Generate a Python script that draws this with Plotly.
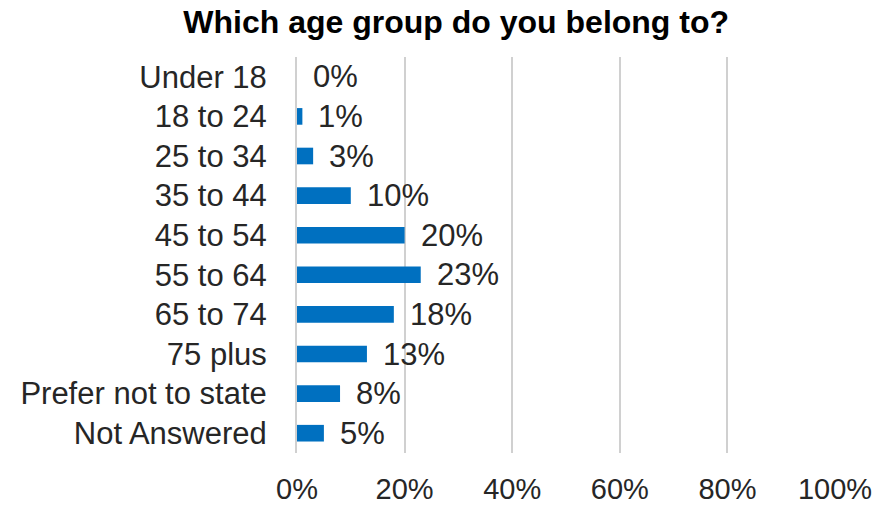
import plotly.graph_objects as go

categories = ["Under 18", "18 to 24", "25 to 34", "35 to 44", "45 to 54",
              "55 to 64", "65 to 74", "75 plus", "Prefer not to state", "Not Answered"]
shares = [0, 1, 3, 10, 20, 23, 18, 13, 8, 5]  # percent of respondents
x_ticks = [0, 20, 40, 60, 80, 100]
x_tick_labels = ["0%", "20%", "40%", "60%", "80%", "100%"]

BAR_BLUE = "#0070C0"
TEXT = "#262626"
FONT = "Liberation Sans, Arial, sans-serif"

fig = go.Figure(go.Bar(
    y=categories,
    x=shares,
    orientation="h",
    marker=dict(color=BAR_BLUE, line=dict(width=0)),
    width=0.42,
    hoverinfo="skip",
))

# value labels to the right of each bar
for cat, val in zip(categories, shares):
    fig.add_annotation(
        x=val, y=cat, xref="x", yref="y",
        text=f"{val}%", showarrow=False,
        xanchor="left", yanchor="middle", xshift=14,
        font=dict(family=FONT, size=31, color=TEXT),
    )

fig.update_layout(
    width=879, height=506,
    margin=dict(l=297, r=44, t=57, b=53),
    paper_bgcolor="white", plot_bgcolor="white",
    showlegend=False,
    title=dict(
        text="<b>Which age group do you belong to?</b>",
        x=0.519, xanchor="center", y=0.957, yanchor="middle",
        font=dict(family=FONT, size=32, color="#000000"),
    ),
    font=dict(family=FONT, size=30, color=TEXT),
)

fig.update_xaxes(
    range=[0, 100],
    tickvals=x_ticks, ticktext=x_tick_labels,
    showgrid=True, gridcolor="#D0D0D0", gridwidth=2,
    zeroline=False, showline=False, ticks="",
    ticklabelstandoff=16,
    tickfont=dict(family=FONT, size=29, color=TEXT),
    automargin=False,
    fixedrange=True,
)
fig.update_yaxes(
    categoryorder="array", categoryarray=categories,
    autorange="reversed",
    showgrid=False, zeroline=False,
    showline=True, linecolor="#D0D0D0", linewidth=2,
    ticks="", ticklabelstandoff=22,
    tickfont=dict(family=FONT, size=31, color=TEXT),
    automargin=False,
    fixedrange=True,
)

fig.write_html("out.html")
